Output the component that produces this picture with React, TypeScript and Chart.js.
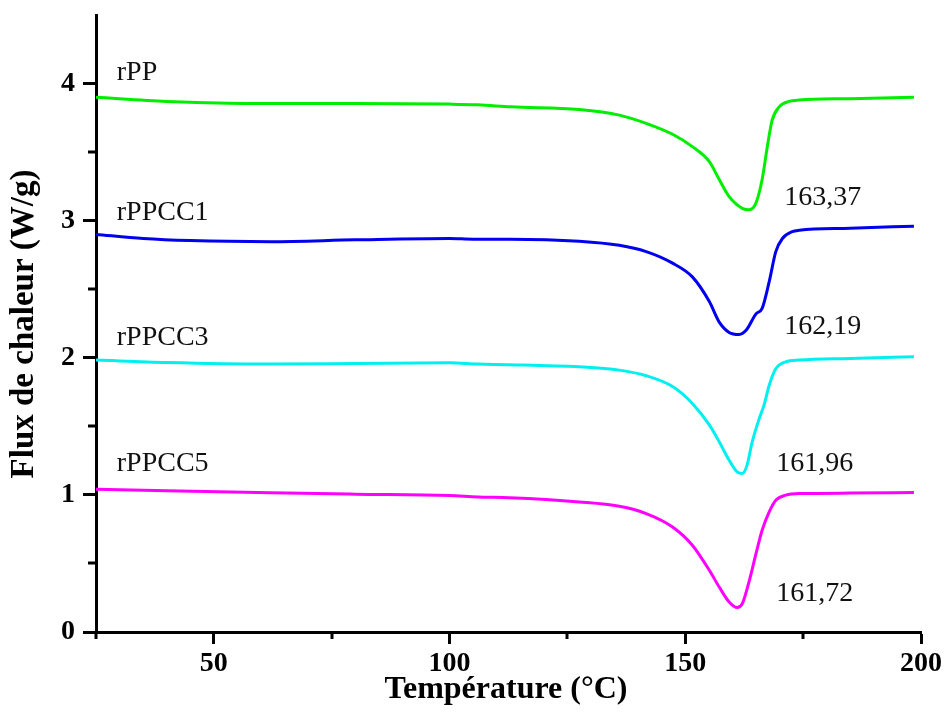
import React, { useEffect, useRef } from "react";
import { Chart, registerables } from "chart.js";

Chart.register(...registerables);

// ---- Data ----
const seriesNames = ["rPP", "rPPCC1", "rPPCC3", "rPPCC5"];
const peakLabels = ["163,37", "162,19", "161,96", "161,72"];
const seriesColors = ["#00ee00", "#0000ee", "#00f0f0", "#ff00ff"];

const rppT = [25, 40, 53, 65, 80, 100, 106, 113, 127.5, 136, 141.7, 147.3, 151.5, 155.1, 157.2, 159.3, 162.1, 163.6, 165, 166.3, 167.4, 168.4, 169.9, 172, 174.2, 185, 198.5];
const rppV = [3.9, 3.87, 3.857, 3.855, 3.855, 3.85, 3.845, 3.83, 3.81, 3.77, 3.71, 3.63, 3.54, 3.43, 3.3, 3.175, 3.09, 3.08, 3.13, 3.3, 3.54, 3.73, 3.83, 3.87, 3.88, 3.89, 3.9];

const cc1T = [25, 35, 45, 62, 80, 100, 105, 112.7, 127.5, 136, 141.7, 147.3, 151.5, 155.1, 157.2, 159.3, 161.4, 162.9, 165, 166.3, 167.8, 169.2, 170.6, 172.7, 174.2, 185, 198.5];
const cc1V = [2.9, 2.87, 2.855, 2.847, 2.86, 2.87, 2.865, 2.865, 2.85, 2.82, 2.774, 2.69, 2.59, 2.41, 2.26, 2.185, 2.17, 2.2, 2.32, 2.36, 2.555, 2.774, 2.87, 2.92, 2.93, 2.945, 2.96];

const cc3T = [25, 40, 62, 80, 100, 106, 112.7, 127.5, 136, 141.7, 147.3, 151.5, 155.1, 157.2, 159.3, 161, 162.1, 163.1, 164.2, 165.7, 166.7, 167.8, 169.2, 171.3, 174.2, 185, 198.5];
const cc3V = [1.983, 1.965, 1.954, 1.958, 1.963, 1.954, 1.95, 1.934, 1.91, 1.869, 1.79, 1.667, 1.51, 1.387, 1.253, 1.168, 1.156, 1.217, 1.387, 1.558, 1.655, 1.8, 1.92, 1.97, 1.983, 1.995, 2.007];

const cc5T = [25, 40, 62, 80, 100, 106, 112.7, 127.5, 136, 141.7, 147.3, 151.5, 155.1, 157.2, 159.3, 161, 162.1, 163.6, 165, 166.3, 167.8, 169.2, 171.3, 174.2, 185, 198.5];
const cc5V = [1.042, 1.03, 1.015, 1.005, 0.995, 0.985, 0.98, 0.949, 0.917, 0.864, 0.766, 0.633, 0.45, 0.328, 0.219, 0.178, 0.207, 0.377, 0.572, 0.742, 0.876, 0.961, 0.998, 1.01, 1.013, 1.017];

const xMajorTicks = [50, 100, 150, 200];
const yMajorTicks = [0, 1, 2, 3, 4];
const xMinorTicks = [25, 75, 125, 175];
const yMinorTicks = [0.5, 1.5, 2.5, 3.5];

// Annotation anchors in data coordinates (left edge, vertical centre)
const nameAnchorsX = [29.4, 29.4, 29.4, 29.4];
const nameAnchorsY = [4.08, 3.056, 2.15, 1.23];
const peakAnchorsX = [171, 171, 169.3, 169.3];
const peakAnchorsY = [3.17, 2.225, 1.23, 0.28];

const SERIF = "'Liberation Serif', 'Times New Roman', serif";

export default function App() {
  const ref = useRef<HTMLCanvasElement | null>(null);

  useEffect(() => {
    const canvas = ref.current;
    if (!canvas) return;
    const mk = (t: number[], v: number[]) => t.map((x, i) => ({ x, y: v[i] }));
    const allData = [mk(rppT, rppV), mk(cc1T, cc1V), mk(cc3T, cc3V), mk(cc5T, cc5V)];

    const extras = {
      id: "extras",
      afterDraw(chart: any) {
        const ctx = chart.ctx;
        const xs = chart.scales.x;
        const ys = chart.scales.y;
        const area = chart.chartArea;
        ctx.save();
        ctx.strokeStyle = "#000";
        ctx.lineWidth = 3;
        // minor ticks
        for (const v of xMinorTicks) {
          const px = Math.round(xs.getPixelForValue(v));
          ctx.beginPath();
          ctx.moveTo(px, area.bottom);
          ctx.lineTo(px, area.bottom + 7);
          ctx.stroke();
        }
        for (const v of yMinorTicks) {
          const py = Math.round(ys.getPixelForValue(v));
          ctx.beginPath();
          ctx.moveTo(area.left, py);
          ctx.lineTo(area.left - 8, py);
          ctx.stroke();
        }
        // annotations
        ctx.fillStyle = "#111";
        ctx.font = `28px ${SERIF}`;
        ctx.textBaseline = "middle";
        ctx.textAlign = "left";
        seriesNames.forEach((n, i) => {
          ctx.fillText(n, xs.getPixelForValue(nameAnchorsX[i]), ys.getPixelForValue(nameAnchorsY[i]));
        });
        peakLabels.forEach((n, i) => {
          ctx.fillText(n, xs.getPixelForValue(peakAnchorsX[i]), ys.getPixelForValue(peakAnchorsY[i]));
        });
        // axis titles
        ctx.fillStyle = "#000";
        ctx.textAlign = "center";
        ctx.font = `bold 32px ${SERIF}`;
        ctx.fillText("Température (°C)", 506, 690);
        ctx.save();
        ctx.translate(24, 324);
        ctx.rotate(-Math.PI / 2);
        ctx.font = `bold 33px ${SERIF}`;
        ctx.fillText("Flux de chaleur (W/g)", 0, 0);
        ctx.restore();
        ctx.restore();
      },
    };

    const zeroPad = (s: any) => {
      s.paddingTop = 0;
      s.paddingBottom = 0;
      s.paddingLeft = 0;
      s.paddingRight = 0;
    };

    const chart = new Chart(canvas, {
      type: "line",
      data: {
        datasets: allData.map((d, i) => ({
          label: seriesNames[i],
          data: d,
          borderColor: seriesColors[i],
          backgroundColor: seriesColors[i],
          borderWidth: 3,
          pointRadius: 0,
          fill: false,
          cubicInterpolationMode: "monotone" as const,
        })),
      },
      options: {
        animation: false,
        responsive: false,
        devicePixelRatio: 1,
        parsing: false as any,
        layout: { padding: { top: 15, right: 25, left: 0, bottom: 0 } },
        plugins: { legend: { display: false }, tooltip: { enabled: false } },
        scales: {
          x: {
            type: "linear",
            min: 25,
            max: 200,
            afterFit: (s: any) => {
              s.height = 92;
              zeroPad(s);
            },
            ticks: {
              stepSize: 25,
              autoSkip: false,
              maxRotation: 0,
              padding: 6,
              color: "#000",
              font: { family: SERIF, size: 28, weight: "bold", lineHeight: 1 },
              callback: (v: any) => (xMajorTicks.includes(Number(v)) ? String(v) : ""),
            },
            grid: {
              display: true,
              drawOnChartArea: false,
              drawTicks: true,
              tickLength: 12,
              tickWidth: 3,
              tickColor: (c: any) => (c.tick && xMajorTicks.includes(c.tick.value) ? "#000" : "rgba(0,0,0,0)"),
            },
            border: { display: true, color: "#000", width: 3 },
          },
          y: {
            type: "linear",
            min: 0,
            max: 4.5,
            afterFit: (s: any) => {
              s.width = 96;
              zeroPad(s);
            },
            ticks: {
              stepSize: 0.5,
              autoSkip: false,
              padding: 8,
              color: "#000",
              font: { family: SERIF, size: 28, weight: "bold", lineHeight: 1 },
              callback: (v: any) => (yMajorTicks.includes(Number(v)) ? String(v) : ""),
            },
            grid: {
              display: true,
              drawOnChartArea: false,
              drawTicks: true,
              tickLength: 13,
              tickWidth: 3,
              tickColor: (c: any) => (c.tick && yMajorTicks.includes(c.tick.value) ? "#000" : "rgba(0,0,0,0)"),
            },
            border: { display: true, color: "#000", width: 3 },
          },
        },
      },
      plugins: [extras],
    });
    return () => chart.destroy();
  }, []);

  return (
    <div style={{ position: "fixed", left: 0, top: 0, width: 946, height: 724, background: "#fff" }}>
      <canvas ref={ref} width={946} height={724} style={{ display: "block" }} />
    </div>
  );
}
